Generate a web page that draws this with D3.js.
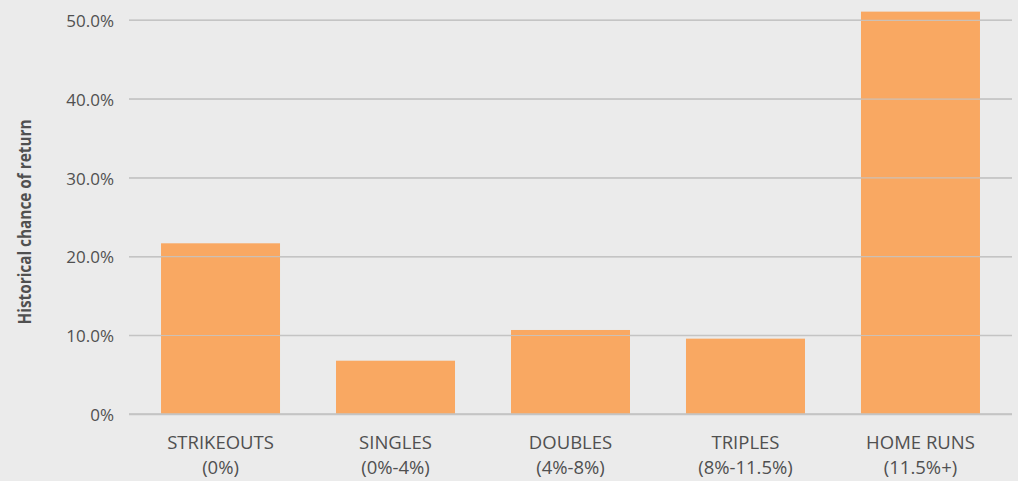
<!DOCTYPE html>
<html>
<head>
<meta charset="utf-8">
<script src="https://cdn.jsdelivr.net/npm/d3@7"></script>
<style>
  html, body { margin: 0; padding: 0; background: #ebebeb; }
  svg { display: block; }
  text { font-family: "Open Sans", "Noto Sans", sans-serif; }
</style>
</head>
<body>
<svg id="chart" width="1018" height="481"></svg>
<script>
// Outcome buckets and their historical chance of return
const categories = ["STRIKEOUTS", "SINGLES", "DOUBLES", "TRIPLES", "HOME RUNS"];
const subLabels = ["(0%)", "(0%-4%)", "(4%-8%)", "(8%-11.5%)", "(11.5%+)"];
const values = [0.217, 0.068, 0.107, 0.096, 0.511];
const yTicks = [0, 0.1, 0.2, 0.3, 0.4, 0.5];
const yTitle = "Historical chance of return";

(function () {
const svg = d3.select("#chart");
const W = 1018, H = 481;
const plotLeft = 129, plotRight = 1012, plotTop = 20.3, plotBottom = 414.3;
const textColor = "#505050";

svg.append("rect").attr("width", W).attr("height", H).attr("fill", "#ebebeb");

const x = d3.scaleBand()
  .domain(categories)
  .range([plotLeft, plotRight])
  .paddingInner(0.32)
  .paddingOuter(0.183);

const y = d3.scaleLinear().domain([0, 0.5]).range([plotBottom, plotTop]);

const fmt = d => d === 0 ? "0%" : d3.format(".1%")(d);

// gridlines
svg.append("g")
  .selectAll("line")
  .data(yTicks)
  .join("line")
  .attr("x1", plotLeft).attr("x2", plotRight)
  .attr("y1", d => y(d)).attr("y2", d => y(d))
  .attr("stroke", "#c4c4c4")
  .attr("stroke-width", 1.5);

// bars
svg.append("g")
  .selectAll("rect")
  .data(values)
  .join("rect")
  .attr("x", (d, i) => x(categories[i]))
  .attr("width", x.bandwidth())
  .attr("y", d => y(d))
  .attr("height", d => y(0) - y(d))
  .attr("fill", "#f9a862");

// gridlines drawn again on top so they show across the bars
svg.append("g")
  .selectAll("line")
  .data(yTicks)
  .join("line")
  .attr("x1", plotLeft).attr("x2", plotRight)
  .attr("y1", d => y(d)).attr("y2", d => y(d))
  .attr("stroke", "#c4c4c4")
  .attr("stroke-opacity", d => d === 0 ? 1 : 0.85)
  .attr("stroke-width", d => d === 0 ? 2 : 1.2);

// y axis
const yAxis = svg.append("g")
  .attr("transform", `translate(${plotLeft - 15},0)`)
  .call(d3.axisLeft(y).tickValues(yTicks).tickFormat(fmt).tickSize(0).tickPadding(0));
yAxis.select(".domain").remove();
yAxis.selectAll("text")
  .attr("fill", textColor)
  .attr("dy", "0.36em")
  .style("font-size", "17px")
  .style("font-family", "'Open Sans', sans-serif");

// x axis labels, two lines each
const xAxis = svg.append("g")
  .attr("transform", `translate(0,${plotBottom})`)
  .call(d3.axisBottom(x).tickSize(0).tickFormat(() => ""));
xAxis.select(".domain").remove();
xAxis.selectAll(".tick").each(function (d, i) {
  const g = d3.select(this);
  g.select("text").remove();
  const t = g.append("text")
    .attr("text-anchor", "middle")
    .attr("fill", textColor)
    .style("font-size", "18.5px");
  t.append("tspan").attr("x", 0).attr("y", 35).text(categories[i]);
  t.append("tspan").attr("x", 0).attr("y", 60).text(subLabels[i]);
});

// y axis title
svg.append("text")
  .attr("transform", `translate(31,222) rotate(-90)`)
  .attr("text-anchor", "middle")
  .attr("fill", textColor)
  .attr("textLength", 205)
  .attr("lengthAdjust", "spacingAndGlyphs")
  .style("font-size", "17px")
  .style("font-weight", "bold")
  .text(yTitle);
})();
</script>
</body>
</html>
